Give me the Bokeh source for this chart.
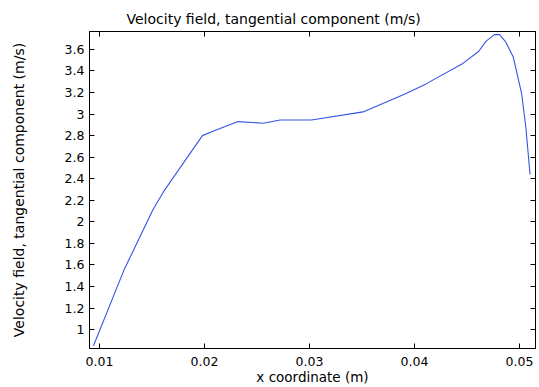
from bokeh.plotting import figure
from bokeh.models import LinearAxis, Range1d, FixedTicker, Title
from bokeh.embed import file_html
from bokeh.resources import INLINE

x_m = [0.00943, 0.01232, 0.0151, 0.0161, 0.0198, 0.0208, 0.0232, 0.0256, 0.0272,
       0.0302, 0.0351, 0.0392, 0.0411, 0.0446, 0.0461, 0.0468, 0.0476, 0.0481,
       0.0487, 0.0494, 0.0502, 0.0506, 0.0510]
v_t = [0.85, 1.55, 2.115, 2.28, 2.80, 2.84, 2.93, 2.915, 2.945,
       2.945, 3.02, 3.19, 3.28, 3.47, 3.58, 3.675, 3.737, 3.737,
       3.667, 3.53, 3.19, 2.88, 2.44]

x_ticks = [0.01, 0.02, 0.03, 0.04, 0.05]
x_labels = ["0.01", "0.02", "0.03", "0.04", "0.05"]
y_ticks = [1.0, 1.2, 1.4, 1.6, 1.8, 2.0, 2.2, 2.4, 2.6, 2.8, 3.0, 3.2, 3.4, 3.6]
y_labels = ["1", "1.2", "1.4", "1.6", "1.8", "2", "2.2", "2.4", "2.6", "2.8", "3",
            "3.2", "3.4", "3.6"]

FONT = "DejaVu Sans"

p = figure(width=539, height=387, output_backend="svg", toolbar_location=None,
           x_range=Range1d(0.00905, 0.05152), y_range=Range1d(0.825, 3.766),
           min_border_left=89, min_border_right=4, min_border_top=31, min_border_bottom=37)

p.title = Title(text="Velocity field, tangential component (m/s)", align="left", offset=37,
                text_font=FONT, text_font_size="14px", text_font_style="normal",
                text_color="#000000", standoff=10)

p.grid.visible = False
p.outline_line_color = "#000000"
p.outline_line_width = 1
p.background_fill_color = "white"

p.line(x_m, v_t, line_color="#3355e6", line_width=1.1)

def style(ax, ticks, labels, show_labels=True):
    ax.ticker = FixedTicker(ticks=ticks)
    ax.minor_tick_line_color = None
    ax.major_tick_in = 5
    ax.major_tick_out = 0
    ax.major_tick_line_color = "#000000"
    ax.axis_line_color = "#000000"
    ax.major_label_overrides = {t: l for t, l in zip(ticks, labels)}
    ax.major_label_text_font = FONT
    ax.major_label_text_font_size = "12.5px"
    ax.major_label_text_color = "#000000" if show_labels else None
    ax.major_label_standoff = 5
    ax.axis_label_text_font = FONT
    ax.axis_label_text_font_size = "14px"
    ax.axis_label_text_font_style = "normal"
    ax.axis_label_text_color = "#000000"

style(p.xaxis[0], x_ticks, x_labels)
p.xaxis[0].axis_label = "x coordinate (m)"
p.xaxis[0].axis_label_text_font_size = "13.5px"
p.xaxis[0].major_label_standoff = 8
p.xaxis[0].axis_label_standoff = 0
style(p.yaxis[0], y_ticks, y_labels)
p.yaxis[0].axis_label = "Velocity field, tangential component (m/s)"
p.yaxis[0].axis_label_standoff = 35

top = LinearAxis()
style(top, x_ticks, x_labels, show_labels=False)
top.major_label_text_font_size = "0px"
top.major_label_standoff = 0
p.add_layout(top, "above")

right = LinearAxis()
style(right, y_ticks, y_labels, show_labels=False)
right.major_label_text_font_size = "0px"
right.major_label_standoff = 0
p.add_layout(right, "right")

open("out.html", "w").write(file_html(p, INLINE))
